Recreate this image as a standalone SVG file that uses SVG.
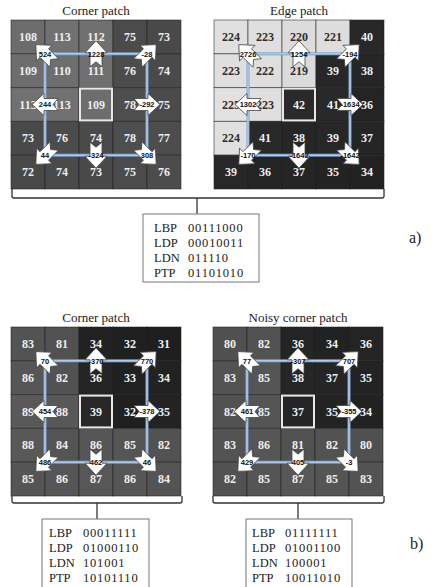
<svg xmlns="http://www.w3.org/2000/svg" width="431" height="587" viewBox="0 0 431 587">
<style>
.c{stroke:#1e1e1e;stroke-opacity:0.55;stroke-width:1}
.t{font-family:"Liberation Serif",serif;font-weight:bold;font-size:12px;fill:#eeeeee;text-anchor:middle}
.td{font-family:"Liberation Serif",serif;font-weight:bold;font-size:12px;fill:#2e2e2e;text-anchor:middle}
.ttl{font-family:"Liberation Serif",serif;font-size:13px;fill:#222;text-anchor:middle}
.ctr{fill:none;stroke:#e8e8e8;stroke-width:2}
.sq1{fill:none;stroke:#7ea2cf;stroke-width:3}
.sq2{fill:none;stroke:#c8daef;stroke-width:1}
.al{font-family:"Liberation Sans",sans-serif;font-weight:bold;font-size:7.5px;fill:#111;text-anchor:middle}
.arr{fill:#fff;stroke:#444;stroke-width:0.8}
.br{fill:#fff;stroke:#333;stroke-width:1.3}
.tk{stroke:#333;stroke-width:1.3}
.box{fill:#fff;stroke:#777;stroke-width:1}
.bt{font-family:"Liberation Serif",serif;font-size:12.5px;fill:#222}
.bv{font-family:"Liberation Serif",serif;font-size:12.5px;fill:#222;letter-spacing:0.8px}
.lab{font-family:"Liberation Serif",serif;font-size:16px;fill:#222}
</style>
<defs>
<path id="arr" class="arr" d="M13,0 L1,-11 L1,-6 L-13,-6 L-8,0 L-13,6 L1,6 L1,11 Z"/>
</defs>

<g id="connectors">
<path class="br" d="M12,189 L12,196 Q12,198 14,198 L382,198 Q384,198 384,196 L384,189"/>
<line class="tk" x1="197" y1="198" x2="197" y2="214"/>
<path class="br" d="M12,496 L12,501 Q12,503 14,503 L180,503 Q182,503 182,501 L182,496"/>
<line class="tk" x1="97" y1="503" x2="97" y2="519"/>
<path class="br" d="M213,496 L213,501 Q213,503 215,503 L382,503 Q384,503 384,501 L384,496"/>
<line class="tk" x1="298" y1="503" x2="298" y2="519"/>
</g>

<g id="corner-patch-a" transform="translate(11,20)">
<text class="ttl" x="85" y="-5">Corner patch</text>
<g class="c">
<rect x="0" y="0" width="34" height="33.8" fill="#6c6c6c"/><rect x="34" y="0" width="34" height="33.8" fill="#717171"/><rect x="68" y="0" width="34" height="33.8" fill="#707070"/><rect x="102" y="0" width="34" height="33.8" fill="#4b4b4b"/><rect x="136" y="0" width="34" height="33.8" fill="#494949"/>
<rect x="0" y="33.8" width="34" height="33.8" fill="#6d6d6d"/><rect x="34" y="33.8" width="34" height="33.8" fill="#6e6e6e"/><rect x="68" y="33.8" width="34" height="33.8" fill="#6f6f6f"/><rect x="102" y="33.8" width="34" height="33.8" fill="#4c4c4c"/><rect x="136" y="33.8" width="34" height="33.8" fill="#4a4a4a"/>
<rect x="0" y="67.6" width="34" height="33.8" fill="#717171"/><rect x="34" y="67.6" width="34" height="33.8" fill="#717171"/><rect x="68" y="67.6" width="34" height="33.8" fill="#6d6d6d"/><rect x="102" y="67.6" width="34" height="33.8" fill="#4e4e4e"/><rect x="136" y="67.6" width="34" height="33.8" fill="#4b4b4b"/>
<rect x="0" y="101.4" width="34" height="33.8" fill="#494949"/><rect x="34" y="101.4" width="34" height="33.8" fill="#4c4c4c"/><rect x="68" y="101.4" width="34" height="33.8" fill="#4a4a4a"/><rect x="102" y="101.4" width="34" height="33.8" fill="#4e4e4e"/><rect x="136" y="101.4" width="34" height="33.8" fill="#4d4d4d"/>
<rect x="0" y="135.2" width="34" height="33.8" fill="#484848"/><rect x="34" y="135.2" width="34" height="33.8" fill="#4a4a4a"/><rect x="68" y="135.2" width="34" height="33.8" fill="#494949"/><rect x="102" y="135.2" width="34" height="33.8" fill="#4b4b4b"/><rect x="136" y="135.2" width="34" height="33.8" fill="#4c4c4c"/>
</g>
<rect class="ctr" x="69" y="68.6" width="32" height="31.8"/>
<text class="t" x="17" y="20.9">108</text><text class="t" x="51" y="20.9">113</text><text class="t" x="85" y="20.9">112</text><text class="t" x="119" y="20.9">75</text><text class="t" x="153" y="20.9">73</text>
<text class="t" x="17" y="54.7">109</text><text class="t" x="51" y="54.7">110</text><text class="t" x="85" y="54.7">111</text><text class="t" x="119" y="54.7">76</text><text class="t" x="153" y="54.7">74</text>
<text class="t" x="17" y="88.5">113</text><text class="t" x="51" y="88.5">113</text><text class="t" x="85" y="88.5">109</text><text class="t" x="119" y="88.5">78</text><text class="t" x="153" y="88.5">75</text>
<text class="t" x="17" y="122.3">73</text><text class="t" x="51" y="122.3">76</text><text class="t" x="85" y="122.3">74</text><text class="t" x="119" y="122.3">78</text><text class="t" x="153" y="122.3">77</text>
<text class="t" x="17" y="156.1">72</text><text class="t" x="51" y="156.1">74</text><text class="t" x="85" y="156.1">73</text><text class="t" x="119" y="156.1">75</text><text class="t" x="153" y="156.1">76</text>
<rect class="sq1" x="34" y="33.8" width="102" height="101.4"/><rect class="sq2" x="34" y="33.8" width="102" height="101.4"/>
<use href="#arr" transform="translate(34,33.8) rotate(-135)"/><text class="al" x="34" y="36.5">524</text>
<use href="#arr" transform="translate(85,33.8) rotate(-90)"/><text class="al" x="85" y="36.5">1228</text>
<use href="#arr" transform="translate(136,33.8) rotate(-45)"/><text class="al" x="136" y="36.5">-28</text>
<use href="#arr" transform="translate(34,84.5) rotate(180)"/><text class="al" x="34" y="87.2">244</text>
<use href="#arr" transform="translate(136,84.5)"/><text class="al" x="136" y="87.2">-292</text>
<use href="#arr" transform="translate(34,135.2) rotate(135)"/><text class="al" x="34" y="137.9">44</text>
<use href="#arr" transform="translate(85,135.2) rotate(90)"/><text class="al" x="85" y="137.9">-324</text>
<use href="#arr" transform="translate(136,135.2) rotate(45)"/><text class="al" x="136" y="137.9">308</text>
</g>

<g id="edge-patch" transform="translate(214,20)">
<text class="ttl" x="85" y="-5">Edge patch</text>
<g class="c">
<rect x="0" y="0" width="34" height="33.8" fill="#e0e0e0"/><rect x="34" y="0" width="34" height="33.8" fill="#dfdfdf"/><rect x="68" y="0" width="34" height="33.8" fill="#dcdcdc"/><rect x="102" y="0" width="34" height="33.8" fill="#dddddd"/><rect x="136" y="0" width="34" height="33.8" fill="#282828"/>
<rect x="0" y="33.8" width="34" height="33.8" fill="#dfdfdf"/><rect x="34" y="33.8" width="34" height="33.8" fill="#dedede"/><rect x="68" y="33.8" width="34" height="33.8" fill="#dbdbdb"/><rect x="102" y="33.8" width="34" height="33.8" fill="#272727"/><rect x="136" y="33.8" width="34" height="33.8" fill="#262626"/>
<rect x="0" y="67.6" width="34" height="33.8" fill="#e1e1e1"/><rect x="34" y="67.6" width="34" height="33.8" fill="#dfdfdf"/><rect x="68" y="67.6" width="34" height="33.8" fill="#2a2a2a"/><rect x="102" y="67.6" width="34" height="33.8" fill="#292929"/><rect x="136" y="67.6" width="34" height="33.8" fill="#242424"/>
<rect x="0" y="101.4" width="34" height="33.8" fill="#e0e0e0"/><rect x="34" y="101.4" width="34" height="33.8" fill="#292929"/><rect x="68" y="101.4" width="34" height="33.8" fill="#262626"/><rect x="102" y="101.4" width="34" height="33.8" fill="#272727"/><rect x="136" y="101.4" width="34" height="33.8" fill="#252525"/>
<rect x="0" y="135.2" width="34" height="33.8" fill="#272727"/><rect x="34" y="135.2" width="34" height="33.8" fill="#242424"/><rect x="68" y="135.2" width="34" height="33.8" fill="#252525"/><rect x="102" y="135.2" width="34" height="33.8" fill="#232323"/><rect x="136" y="135.2" width="34" height="33.8" fill="#222222"/>
</g>
<rect class="ctr" x="69" y="68.6" width="32" height="31.8"/>
<text class="td" x="17" y="20.9">224</text><text class="td" x="51" y="20.9">223</text><text class="td" x="85" y="20.9">220</text><text class="td" x="119" y="20.9">221</text><text class="t" x="153" y="20.9">40</text>
<text class="td" x="17" y="54.7">223</text><text class="td" x="51" y="54.7">222</text><text class="td" x="85" y="54.7">219</text><text class="t" x="119" y="54.7">39</text><text class="t" x="153" y="54.7">38</text>
<text class="td" x="17" y="88.5">225</text><text class="td" x="51" y="88.5">223</text><text class="t" x="85" y="88.5">42</text><text class="t" x="119" y="88.5">41</text><text class="t" x="153" y="88.5">36</text>
<text class="td" x="17" y="122.3">224</text><text class="t" x="51" y="122.3">41</text><text class="t" x="85" y="122.3">38</text><text class="t" x="119" y="122.3">39</text><text class="t" x="153" y="122.3">37</text>
<text class="t" x="17" y="156.1">39</text><text class="t" x="51" y="156.1">36</text><text class="t" x="85" y="156.1">37</text><text class="t" x="119" y="156.1">35</text><text class="t" x="153" y="156.1">34</text>
<rect class="sq1" x="34" y="33.8" width="102" height="101.4"/><rect class="sq2" x="34" y="33.8" width="102" height="101.4"/>
<use href="#arr" transform="translate(34,33.8) rotate(-135)"/><text class="al" x="34" y="36.5">2726</text>
<use href="#arr" transform="translate(85,33.8) rotate(-90)"/><text class="al" x="85" y="36.5">1254</text>
<use href="#arr" transform="translate(136,33.8) rotate(-45)"/><text class="al" x="136" y="36.5">-194</text>
<use href="#arr" transform="translate(34,84.5) rotate(180)"/><text class="al" x="34" y="87.2">1302</text>
<use href="#arr" transform="translate(136,84.5)"/><text class="al" x="136" y="87.2">-1634</text>
<use href="#arr" transform="translate(34,135.2) rotate(135)"/><text class="al" x="34" y="137.9">-170</text>
<use href="#arr" transform="translate(85,135.2) rotate(90)"/><text class="al" x="85" y="137.9">-1642</text>
<use href="#arr" transform="translate(136,135.2) rotate(45)"/><text class="al" x="136" y="137.9">-1642</text>
</g>

<g id="box-a">
<rect class="box" x="143" y="214" width="116" height="68"/>
<text class="bt" x="154" y="231.5">LBP</text><text class="bv" x="188" y="231.5">00111000</text>
<text class="bt" x="154" y="246.5">LDP</text><text class="bv" x="188" y="246.5">00010011</text>
<text class="bt" x="154" y="261.5">LDN</text><text class="bv" x="188" y="261.5">011110</text>
<text class="bt" x="154" y="276.5">PTP</text><text class="bv" x="188" y="276.5">01101010</text>
</g>
<text id="label-a" class="lab" x="409" y="243">a)</text>

<g id="corner-patch-b" transform="translate(11,327)">
<text class="ttl" x="85" y="-5">Corner patch</text>
<g class="c">
<rect x="0" y="0" width="34" height="33.8" fill="#535353"/><rect x="34" y="0" width="34" height="33.8" fill="#515151"/><rect x="68" y="0" width="34" height="33.8" fill="#222222"/><rect x="102" y="0" width="34" height="33.8" fill="#202020"/><rect x="136" y="0" width="34" height="33.8" fill="#1f1f1f"/>
<rect x="0" y="33.8" width="34" height="33.8" fill="#565656"/><rect x="34" y="33.8" width="34" height="33.8" fill="#525252"/><rect x="68" y="33.8" width="34" height="33.8" fill="#242424"/><rect x="102" y="33.8" width="34" height="33.8" fill="#212121"/><rect x="136" y="33.8" width="34" height="33.8" fill="#222222"/>
<rect x="0" y="67.6" width="34" height="33.8" fill="#595959"/><rect x="34" y="67.6" width="34" height="33.8" fill="#585858"/><rect x="68" y="67.6" width="34" height="33.8" fill="#272727"/><rect x="102" y="67.6" width="34" height="33.8" fill="#202020"/><rect x="136" y="67.6" width="34" height="33.8" fill="#232323"/>
<rect x="0" y="101.4" width="34" height="33.8" fill="#585858"/><rect x="34" y="101.4" width="34" height="33.8" fill="#545454"/><rect x="68" y="101.4" width="34" height="33.8" fill="#565656"/><rect x="102" y="101.4" width="34" height="33.8" fill="#555555"/><rect x="136" y="101.4" width="34" height="33.8" fill="#525252"/>
<rect x="0" y="135.2" width="34" height="33.8" fill="#555555"/><rect x="34" y="135.2" width="34" height="33.8" fill="#565656"/><rect x="68" y="135.2" width="34" height="33.8" fill="#575757"/><rect x="102" y="135.2" width="34" height="33.8" fill="#565656"/><rect x="136" y="135.2" width="34" height="33.8" fill="#545454"/>
</g>
<rect class="ctr" x="69" y="68.6" width="32" height="31.8"/>
<text class="t" x="17" y="20.9">83</text><text class="t" x="51" y="20.9">81</text><text class="t" x="85" y="20.9">34</text><text class="t" x="119" y="20.9">32</text><text class="t" x="153" y="20.9">31</text>
<text class="t" x="17" y="54.7">86</text><text class="t" x="51" y="54.7">82</text><text class="t" x="85" y="54.7">36</text><text class="t" x="119" y="54.7">33</text><text class="t" x="153" y="54.7">34</text>
<text class="t" x="17" y="88.5">89</text><text class="t" x="51" y="88.5">88</text><text class="t" x="85" y="88.5">39</text><text class="t" x="119" y="88.5">32</text><text class="t" x="153" y="88.5">35</text>
<text class="t" x="17" y="122.3">88</text><text class="t" x="51" y="122.3">84</text><text class="t" x="85" y="122.3">86</text><text class="t" x="119" y="122.3">85</text><text class="t" x="153" y="122.3">82</text>
<text class="t" x="17" y="156.1">85</text><text class="t" x="51" y="156.1">86</text><text class="t" x="85" y="156.1">87</text><text class="t" x="119" y="156.1">86</text><text class="t" x="153" y="156.1">84</text>
<rect class="sq1" x="34" y="33.8" width="102" height="101.4"/><rect class="sq2" x="34" y="33.8" width="102" height="101.4"/>
<use href="#arr" transform="translate(34,33.8) rotate(-135)"/><text class="al" x="34" y="36.5">70</text>
<use href="#arr" transform="translate(85,33.8) rotate(-90)"/><text class="al" x="85" y="36.5">-370</text>
<use href="#arr" transform="translate(136,33.8) rotate(-45)"/><text class="al" x="136" y="36.5">770</text>
<use href="#arr" transform="translate(34,84.5) rotate(180)"/><text class="al" x="34" y="87.2">454</text>
<use href="#arr" transform="translate(136,84.5)"/><text class="al" x="136" y="87.2">-378</text>
<use href="#arr" transform="translate(34,135.2) rotate(135)"/><text class="al" x="34" y="137.9">486</text>
<use href="#arr" transform="translate(85,135.2) rotate(90)"/><text class="al" x="85" y="137.9">462</text>
<use href="#arr" transform="translate(136,135.2) rotate(45)"/><text class="al" x="136" y="137.9">46</text>
</g>

<g id="noisy-corner-patch" transform="translate(213,327)">
<text class="ttl" x="85" y="-5">Noisy corner patch</text>
<g class="c">
<rect x="0" y="0" width="34" height="33.8" fill="#505050"/><rect x="34" y="0" width="34" height="33.8" fill="#525252"/><rect x="68" y="0" width="34" height="33.8" fill="#242424"/><rect x="102" y="0" width="34" height="33.8" fill="#222222"/><rect x="136" y="0" width="34" height="33.8" fill="#242424"/>
<rect x="0" y="33.8" width="34" height="33.8" fill="#535353"/><rect x="34" y="33.8" width="34" height="33.8" fill="#555555"/><rect x="68" y="33.8" width="34" height="33.8" fill="#262626"/><rect x="102" y="33.8" width="34" height="33.8" fill="#252525"/><rect x="136" y="33.8" width="34" height="33.8" fill="#232323"/>
<rect x="0" y="67.6" width="34" height="33.8" fill="#525252"/><rect x="34" y="67.6" width="34" height="33.8" fill="#555555"/><rect x="68" y="67.6" width="34" height="33.8" fill="#252525"/><rect x="102" y="67.6" width="34" height="33.8" fill="#232323"/><rect x="136" y="67.6" width="34" height="33.8" fill="#222222"/>
<rect x="0" y="101.4" width="34" height="33.8" fill="#535353"/><rect x="34" y="101.4" width="34" height="33.8" fill="#565656"/><rect x="68" y="101.4" width="34" height="33.8" fill="#515151"/><rect x="102" y="101.4" width="34" height="33.8" fill="#525252"/><rect x="136" y="101.4" width="34" height="33.8" fill="#505050"/>
<rect x="0" y="135.2" width="34" height="33.8" fill="#525252"/><rect x="34" y="135.2" width="34" height="33.8" fill="#555555"/><rect x="68" y="135.2" width="34" height="33.8" fill="#575757"/><rect x="102" y="135.2" width="34" height="33.8" fill="#555555"/><rect x="136" y="135.2" width="34" height="33.8" fill="#535353"/>
</g>
<rect class="ctr" x="69" y="68.6" width="32" height="31.8"/>
<text class="t" x="17" y="20.9">80</text><text class="t" x="51" y="20.9">82</text><text class="t" x="85" y="20.9">36</text><text class="t" x="119" y="20.9">34</text><text class="t" x="153" y="20.9">36</text>
<text class="t" x="17" y="54.7">83</text><text class="t" x="51" y="54.7">85</text><text class="t" x="85" y="54.7">38</text><text class="t" x="119" y="54.7">37</text><text class="t" x="153" y="54.7">35</text>
<text class="t" x="17" y="88.5">82</text><text class="t" x="51" y="88.5">85</text><text class="t" x="85" y="88.5">37</text><text class="t" x="119" y="88.5">35</text><text class="t" x="153" y="88.5">34</text>
<text class="t" x="17" y="122.3">83</text><text class="t" x="51" y="122.3">86</text><text class="t" x="85" y="122.3">81</text><text class="t" x="119" y="122.3">82</text><text class="t" x="153" y="122.3">80</text>
<text class="t" x="17" y="156.1">82</text><text class="t" x="51" y="156.1">85</text><text class="t" x="85" y="156.1">87</text><text class="t" x="119" y="156.1">85</text><text class="t" x="153" y="156.1">83</text>
<rect class="sq1" x="34" y="33.8" width="102" height="101.4"/><rect class="sq2" x="34" y="33.8" width="102" height="101.4"/>
<use href="#arr" transform="translate(34,33.8) rotate(-135)"/><text class="al" x="34" y="36.5">77</text>
<use href="#arr" transform="translate(85,33.8) rotate(-90)"/><text class="al" x="85" y="36.5">-307</text>
<use href="#arr" transform="translate(136,33.8) rotate(-45)"/><text class="al" x="136" y="36.5">707</text>
<use href="#arr" transform="translate(34,84.5) rotate(180)"/><text class="al" x="34" y="87.2">461</text>
<use href="#arr" transform="translate(136,84.5)"/><text class="al" x="136" y="87.2">-355</text>
<use href="#arr" transform="translate(34,135.2) rotate(135)"/><text class="al" x="34" y="137.9">429</text>
<use href="#arr" transform="translate(85,135.2) rotate(90)"/><text class="al" x="85" y="137.9">405</text>
<use href="#arr" transform="translate(136,135.2) rotate(45)"/><text class="al" x="136" y="137.9">-3</text>
</g>

<g id="box-b1">
<rect class="box" x="42" y="519" width="107" height="75"/>
<text class="bt" x="49" y="536.5">LBP</text><text class="bv" x="83" y="536.5">00011111</text>
<text class="bt" x="49" y="551.5">LDP</text><text class="bv" x="83" y="551.5">01000110</text>
<text class="bt" x="49" y="566.5">LDN</text><text class="bv" x="83" y="566.5">101001</text>
<text class="bt" x="49" y="581.5">PTP</text><text class="bv" x="83" y="581.5">10101110</text>
</g>
<g id="box-b2">
<rect class="box" x="246" y="519" width="106" height="75"/>
<text class="bt" x="252" y="536.5">LBP</text><text class="bv" x="285" y="536.5">01111111</text>
<text class="bt" x="252" y="551.5">LDP</text><text class="bv" x="285" y="551.5">01001100</text>
<text class="bt" x="252" y="566.5">LDN</text><text class="bv" x="285" y="566.5">100001</text>
<text class="bt" x="252" y="581.5">PTP</text><text class="bv" x="285" y="581.5">10011010</text>
</g>
<text id="label-b" class="lab" x="410" y="549">b)</text>
</svg>
